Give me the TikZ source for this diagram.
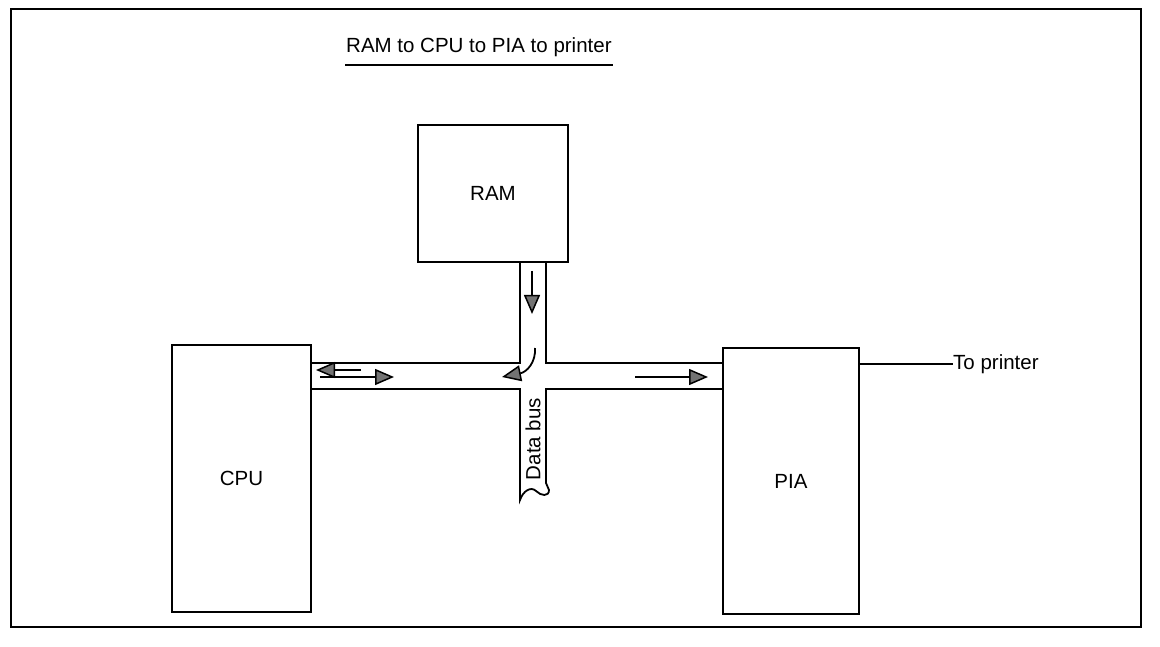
\documentclass[tikz,border=0pt]{standalone}
\usepackage{fontspec}
\setmainfont{Liberation Sans}
\usetikzlibrary{arrows.meta}
\begin{document}
\begin{tikzpicture}[x=1pt,y=-1pt,
  box/.style={draw,line width=1.8pt,inner sep=0pt,font=\fontsize{20.5}{24}\selectfont},
  lbl/.style={inner sep=0pt,font=\fontsize{20.5}{24}\selectfont},
  bus/.style={line width=1.8pt,line join=miter},
  flow/.style={line width=1.8pt,-{Triangle[length=19pt,width=16pt,fill=black!55,line width=1.5pt]}}]
\useasboundingbox (0,0) rectangle (1160,647);
\draw[line width=1.8pt] (11,9) rectangle (1141,627);
% title
\node[lbl,anchor=base west] (title) at (346,53) {RAM to CPU to PIA to printer};
\draw[line width=1.8pt] (345,65) -- (613,65);
% boxes
\node[box,minimum width=150pt,minimum height=137pt] (ram) at (493,193.5) {RAM};
\node[box,minimum width=139pt,minimum height=267pt] (cpu) at (241.5,478.5) {CPU};
\node[box,minimum width=136pt,minimum height=266pt] (pia) at (791,481) {PIA};
% data bus
\draw[bus] (cpu.east |- 0,363) -- (520,363) -- (520,0 |- ram.south);
\draw[bus] (546,0 |- ram.south) -- (546,363) -- (pia.west |- 0,363);
\draw[bus] (cpu.east |- 0,389) -- (520,389) -- (520,500)
  .. controls (523,491) and (531,486) .. (536,491)
  .. controls (541,496) and (549,497) .. (549,490)
  .. controls (549,487) and (546,486) .. (546,483)
  -- (546,389) -- (pia.west |- 0,389);
\node[lbl,rotate=90] (db) at (533,439) {Data bus};
% flow arrows
\coordinate (a1s) at (532,271); \coordinate (a1e) at (532,314);
\draw[flow] (a1s) -- (a1e);
\coordinate (a2s) at (535,348); \coordinate (a2e) at (502,377);
\draw[flow] (a2s) .. controls (536,362) and (527,372) .. (a2e);
\coordinate (a3s) at (361,370); \coordinate (a3e) at (316,370);
\draw[flow] (a3s) -- (a3e);
\coordinate (a4s) at (320,377); \coordinate (a4e) at (394,377);
\draw[flow] (a4s) -- (a4e);
\coordinate (a5s) at (635,377); \coordinate (a5e) at (708,377);
\draw[flow] (a5s) -- (a5e);
% to printer
\node[lbl,anchor=west] (prn) at (953,364) {To printer};
\draw[line width=1.5pt] (pia.east |- prn.west) -- (prn.west);
\end{tikzpicture}
\end{document}
